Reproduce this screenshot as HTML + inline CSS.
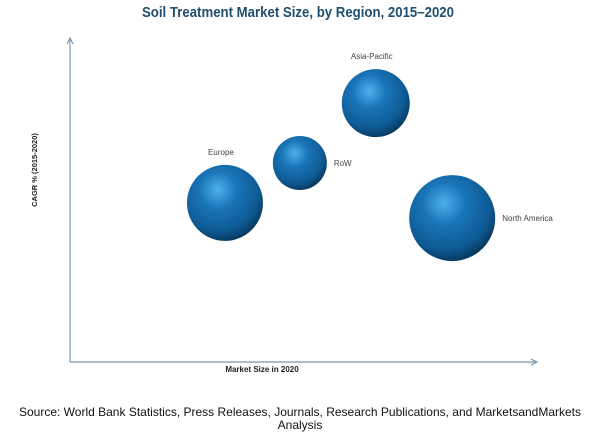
<!DOCTYPE html>
<html><head><meta charset="utf-8"><style>
body{margin:0;width:600px;height:445px;background:#fff;overflow:hidden;font-family:"Liberation Sans",sans-serif}
svg{display:block}
</style></head><body>
<svg id="chart" width="600" height="445">
<defs>
<radialGradient id="sph" cx="0.42" cy="0.35" r="0.7" fx="0.4" fy="0.32">
<stop offset="0" stop-color="#4fb0ee"/>
<stop offset="0.35" stop-color="#1a75b8"/>
<stop offset="0.75" stop-color="#0e5a94"/>
<stop offset="1" stop-color="#06304f"/>
</radialGradient>
</defs>
<text x="298" y="17" text-anchor="middle" font-size="15" font-weight="bold" fill="#1f4e6e" textLength="312" lengthAdjust="spacingAndGlyphs">Soil Treatment Market Size, by Region, 2015–2020</text>
<line x1="70" y1="362" x2="70" y2="38" stroke="#7a98b0" stroke-width="1.2"/>
<polyline points="67,44 70,38 73,44" fill="none" stroke="#7a98b0" stroke-width="1.2"/>
<line x1="70" y1="362" x2="537" y2="362" stroke="#7a98b0" stroke-width="1.2"/>
<polyline points="531,359 537,362 531,365" fill="none" stroke="#7a98b0" stroke-width="1.2"/>
<text x="262" y="372" text-anchor="middle" font-size="8" font-weight="bold" fill="#222">Market Size in 2020</text>
<text transform="translate(37,170) rotate(-90)" text-anchor="middle" font-size="7.5" font-weight="bold" fill="#222">CAGR % (2015-2020)</text>
<g id="bubbles"></g>
<text x="300" y="416" text-anchor="middle" font-size="12" fill="#111">Source: World Bank Statistics, Press Releases, Journals, Research Publications, and MarketsandMarkets</text>
<text x="300" y="429" text-anchor="middle" font-size="12" fill="#111">Analysis</text>
</svg>
<script>
const regions=["Europe","RoW","Asia-Pacific","North America"];
const marketSize=[29.8,44.2,58.8,73.5];
const cagr=[49.4,61.8,80.4,44.7];
const bubbleSize=[38,27,34,43];
const labelPos=["top","right","top","right"];
const xS=v=>70+v/100*520;
const yS=v=>362-v/100*322;
const rS=v=>v;
const g=document.getElementById('bubbles');
const NS="http://www.w3.org/2000/svg";
regions.forEach((n,i)=>{
  const cx=xS(marketSize[i]),cy=yS(cagr[i]),r=rS(bubbleSize[i]);
  const c=document.createElementNS(NS,'circle');
  c.setAttribute('cx',cx);c.setAttribute('cy',cy);c.setAttribute('r',r);
  c.setAttribute('fill','url(#sph)');
  
  
  g.appendChild(c);
  const t=document.createElementNS(NS,'text');
  if(labelPos[i]==="top"){t.setAttribute('x',cx-4);t.setAttribute('y',cy-r-10);t.setAttribute('text-anchor','middle');}
  else{t.setAttribute('x',cx+r+7);t.setAttribute('y',cy+3);}
  t.setAttribute('font-size','8');t.setAttribute('fill','#444');
  t.textContent=n;
  
  
  g.appendChild(t);
});
</script>
</body></html>
